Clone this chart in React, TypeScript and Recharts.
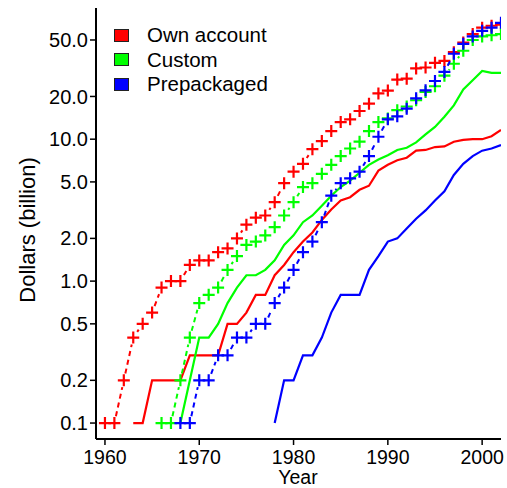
import { LineChart, Line, XAxis, YAxis } from "recharts";

const years = [
  1960, 1961, 1962, 1963, 1964, 1965, 1966, 1967, 1968, 1969,
  1970, 1971, 1972, 1973, 1974, 1975, 1976, 1977, 1978, 1979,
  1980, 1981, 1982, 1983, 1984, 1985, 1986, 1987, 1988, 1989,
  1990, 1991, 1992, 1993, 1994, 1995, 1996, 1997, 1998, 1999,
  2000, 2001, 2002,
];

// "+" series (dashed, R type "b")
const ownAccountTotal = [
  0.1, 0.1, 0.2, 0.4, 0.5, 0.6, 0.9, 1.0, 1.0, 1.3,
  1.4, 1.4, 1.6, 1.7, 2.0, 2.5, 2.8, 2.9, 3.6, 4.9,
  5.9, 6.7, 8.5, 9.7, 11.4, 13.2, 13.8, 15.8, 17.8, 21,
  22, 26.3, 26.7, 31.5, 32, 34.5, 35.6, 41, 48, 55,
  61, 63, 64,
];
const customTotal = [
  null, null, null, null, null, null, 0.1, 0.1, 0.2, 0.4,
  0.7, 0.8, 0.9, 1.2, 1.5, 1.8, 1.9, 2.1, 2.4, 2.9,
  3.6, 4.6, 4.9, 5.7, 6.6, 7.6, 8.6, 9.6, 11.4, 13.2,
  14, 16, 17, 18.8, 21.5, 23.6, 28, 34, 42, 50,
  53, 54, 55,
];
const prepackagedTotal = [
  null, null, null, null, null, null, null, null, 0.1, 0.1,
  0.2, 0.2, 0.3, 0.3, 0.4, 0.4, 0.5, 0.5, 0.7, 0.9,
  1.2, 1.6, 1.9, 2.6, 4.0, 4.9, 5.3, 5.9, 7.6, 10.4,
  13.8, 14.5, 16.4, 19.4, 22.1, 25.7, 29.8, 40, 47, 53,
  58, 61, 66,
];

// solid series
const ownAccountLine = [
  null, null, null, 0.1, 0.1, 0.2, 0.2, 0.2, 0.2, 0.3,
  0.3, 0.3, 0.3, 0.5, 0.5, 0.6, 0.8, 0.8, 1.1, 1.3,
  1.6, 1.9, 2.2, 2.7, 3.2, 3.7, 3.9, 4.4, 4.7, 6.0,
  6.6, 7.1, 7.4, 8.3, 8.4, 8.8, 8.9, 9.6, 9.9, 10.0,
  10.0, 10.5, 11.6,
];
const customLine = [
  null, null, null, null, null, null, null, null, 0.1, 0.2,
  0.4, 0.4, 0.5, 0.7, 0.9, 1.1, 1.1, 1.2, 1.4, 1.8,
  2.1, 2.6, 2.9, 3.4, 4.0, 4.6, 5.1, 5.8, 6.6, 7.2,
  7.7, 8.4, 8.7, 9.5, 10.8, 12.2, 14.4, 17.3, 22.4, 26,
  30.3, 29.3, 29.3,
];
const prepackagedLine = [
  null, null, null, null, null, null, null, null, null, null,
  null, null, null, null, null, null, null, null, 0.1, 0.2,
  0.2, 0.3, 0.3, 0.4, 0.6, 0.8, 0.8, 0.8, 1.2, 1.5,
  1.9, 2.0, 2.35, 2.75, 3.15, 3.7, 4.3, 5.6, 6.7, 7.6,
  8.3, 8.6, 9.1,
];

const xTicks = [1960, 1970, 1980, 1990, 2000];
const yTicks = [0.1, 0.2, 0.5, 1, 2, 5, 10, 20, 50];

const legendItems = [
  { label: "Own account", color: "#ff0000" },
  { label: "Custom", color: "#00ff00" },
  { label: "Prepackaged", color: "#0000ff" },
];

const data = years.map((year, i) => ({
  year,
  ownTotal: ownAccountTotal[i],
  customTotal: customTotal[i],
  prepTotal: prepackagedTotal[i],
  ownLine: ownAccountLine[i],
  customLine: customLine[i],
  prepLine: prepackagedLine[i],
}));

const FONT = "'Liberation Sans', Arial, sans-serif";

// "+" marker plus a dashed segment to the next point, leaving a gap round each marker
function plusDot(color: string) {
  return (props: any) => {
    const { cx, cy, index, points } = props;
    if (cx == null || cy == null || isNaN(cy)) return <g key={index} />;
    let seg = null;
    const next = points ? points[index + 1] : null;
    if (next && next.x != null && next.y != null && !isNaN(next.y)) {
      const dx = next.x - cx;
      const dy = next.y - cy;
      const len = Math.hypot(dx, dy);
      const gap = 7;
      if (len > gap * 2 + 1) {
        seg = (
          <line
            x1={cx + (dx / len) * gap}
            y1={cy + (dy / len) * gap}
            x2={next.x - (dx / len) * gap}
            y2={next.y - (dy / len) * gap}
            stroke={color}
            strokeWidth={2}
            strokeDasharray="5 4"
          />
        );
      }
    }
    return (
      <g key={index}>
        {seg}
        <path d={`M${cx - 6},${cy}h12M${cx},${cy - 6}v12`} stroke={color} strokeWidth={2.2} fill="none" />
      </g>
    );
  };
}

function YLabel() {
  return (
    <text
      x={27}
      y={230}
      transform="rotate(-90, 27, 230)"
      textAnchor="middle"
      dominantBaseline="central"
      fontSize={22}
      fill="#000"
      fontFamily={FONT}
    >
      Dollars (billion)
    </text>
  );
}

function XLabel() {
  return (
    <text x={298} y={484} textAnchor="middle" fontSize={19.5} fill="#000" fontFamily={FONT}>
      Year
    </text>
  );
}

export default function App() {
  return (
    <div style={{ position: "absolute", left: 0, top: 0, width: 507, height: 488, fontFamily: FONT }}>
      <LineChart
        width={507}
        height={488}
        data={data}
        margin={{ top: 8, right: 6, left: 0, bottom: 0 }}
      >
        <XAxis
          dataKey="year"
          type="number"
          domain={[1959.05, 2002]}
          allowDataOverflow
          ticks={xTicks}
          height={49}
          tickSize={6}
          tickMargin={5}
          axisLine={{ stroke: "#000", strokeWidth: 2 }}
          tickLine={{ stroke: "#000", strokeWidth: 1.5 }}
          tick={{ fontSize: 19.5, fill: "#000", fontFamily: FONT }}
          label={<XLabel />}
        />
        <YAxis
          scale="log"
          domain={[0.0772, 84]}
          allowDataOverflow
          ticks={yTicks}
          width={96}
          tickSize={6}
          tickMargin={2}
          tickFormatter={(v: number) => v.toFixed(1)}
          axisLine={{ stroke: "#000", strokeWidth: 2 }}
          tickLine={{ stroke: "#000", strokeWidth: 1.5 }}
          tick={{ fontSize: 20, fill: "#000", fontFamily: FONT }}
          label={<YLabel />}
        />
        <Line dataKey="ownLine" stroke="#ff0000" strokeWidth={2.2} dot={false} isAnimationActive={false} />
        <Line dataKey="customLine" stroke="#00ff00" strokeWidth={2.2} dot={false} isAnimationActive={false} />
        <Line dataKey="prepLine" stroke="#0000ff" strokeWidth={2.2} dot={false} isAnimationActive={false} />
        <Line dataKey="ownTotal" stroke="none" dot={plusDot("#ff0000")} isAnimationActive={false} />
        <Line dataKey="customTotal" stroke="none" dot={plusDot("#00ff00")} isAnimationActive={false} />
        <Line dataKey="prepTotal" stroke="none" dot={plusDot("#0000ff")} isAnimationActive={false} />
      </LineChart>
      <div style={{ position: "absolute", left: 114, top: 23 }}>
        {legendItems.map((item) => (
          <div key={item.label} style={{ display: "flex", alignItems: "center", height: 24.5 }}>
            <div
              style={{
                width: 13,
                height: 11,
                background: item.color,
                border: "1.5px solid #222",
                marginRight: 18,
              }}
            />
            <span style={{ fontSize: 20.5, color: "#000", lineHeight: "24px" }}>{item.label}</span>
          </div>
        ))}
      </div>
    </div>
  );
}
